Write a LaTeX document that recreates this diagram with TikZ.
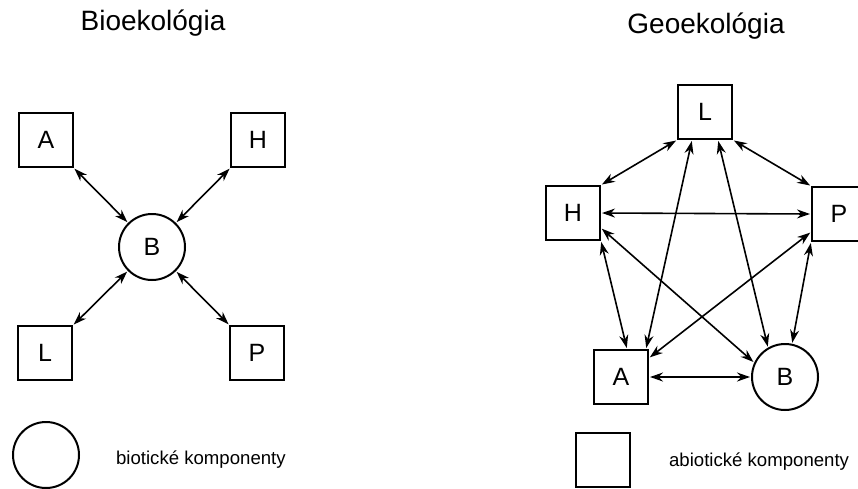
\documentclass[tikz,border=0pt]{standalone}
\usepackage{fontspec}
\setmainfont{Liberation Sans}
\usetikzlibrary{arrows.meta}

\begin{document}
\begin{tikzpicture}[
                    x=1pt, y=-1pt,
                    >={Stealth[length=13pt,width=9pt]},
                    shorten <=1pt,
                    shorten >=1pt,
                    line width=1.6pt,
                    abio/.style={draw, rectangle, minimum size=54pt, inner sep=0pt,
                                 line width=2pt, font=\fontsize{25}{30}\selectfont},
                    bio/.style={draw, circle, minimum size=66pt, inner sep=0pt,
                                line width=2pt, font=\fontsize{25}{30}\selectfont},
                    title/.style={anchor=base, font=\fontsize{28}{32}\selectfont},
                    legend/.style={anchor=west, font=\fontsize{18.6}{22}\selectfont},
                ]
                \useasboundingbox (0,0) rectangle (858,488);

                % Bioekologia
                \node[title] (tbio) at (153,30) {Bioekológia};
                \node[abio] (lA) at (46,140) {A};
                \node[abio] (lH) at (258,140) {H};
                \node[bio]  (lB) at (152,247) {B};
                \node[abio] (lL) at (45,353) {L};
                \node[abio] (lP) at (257,353) {P};

                \draw[<->] (lA) -- (lB);
                \draw[<->] (lH) -- (lB);
                \draw[<->] (lL) -- (lB);
                \draw[<->] (lP) -- (lB);

                % Geoekologia
                \node[title] (tgeo) at (706,33) {Geoekológia};
                \node[abio] (rL) at (705,112) {L};
                \node[abio] (rH) at (573,213) {H};
                \node[abio] (rP) at (839,214) {P};
                \node[abio] (rA) at (621,377) {A};
                \node[bio]  (rB) at (785,377) {B};

                \draw[<->] (rL.south west) -- (rH.north east);
                \draw[<->] (rL.south east) -- (rP.north west);
                \draw[<->] ([xshift=-13pt]rL.south) -- ([xshift=-3pt]rA.north east);
                \draw[<->] ([xshift=13pt]rL.south) -- (rB.120);
                \draw[<->] (rH.east) -- (rP.west);
                \draw[<->] (rH.south east) -- ([xshift=6pt]rA.north);
                \draw[<->] ([yshift=-15pt]rH.east) -- (rB.155);
                \draw[<->] ([yshift=-18pt]rP.west) -- ([yshift=19pt]rA.east);
                \draw[<->] (rP.south west) -- (rB.78);
                \draw[<->] (rA.east) -- (rB.west);

                % legend
                \node[bio] (kbio) at (46,455) {};
                \node[legend] (tkbio) at (112,460) {biotické komponenty};
                \node[abio] (kabio) at (603,460) {};
                \node[legend] (tkabio) at (665,462) {abiotické komponenty};
            \end{tikzpicture}
\end{document}
